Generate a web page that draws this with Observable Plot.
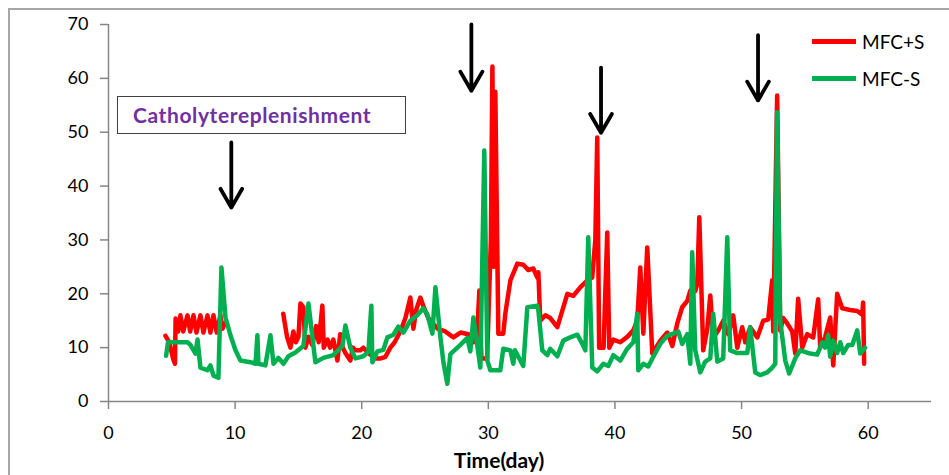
<!DOCTYPE html>
<html>
<head>
<meta charset="utf-8">
<script src="https://cdn.jsdelivr.net/npm/d3@7"></script>
<script src="https://cdn.jsdelivr.net/npm/@observablehq/plot@0.6"></script>
<style>
  html, body { margin: 0; padding: 0; background: #fff; overflow: hidden; }
  #wrap { position: relative; width: 949px; height: 475px; overflow: hidden; font-family: Lato, "Liberation Sans", sans-serif; }
  #frame { position: absolute; left: 8px; top: 8px; width: 980px; height: 500px; border: 2px solid #a6a6a6; box-sizing: border-box; pointer-events: none; }
  #chart { position: absolute; left: 0; top: 0; }
  #note { position: absolute; left: 117px; top: 96px; width: 289px; height: 38px; border: 1px solid #404040; box-sizing: border-box; background: #fff;
          color: #7030a0; font-weight: bold; font-size: 21px; letter-spacing: 0.6px; line-height: 36px; padding-left: 15px; font-family: Lato, sans-serif; white-space: nowrap; }
  #xlabel { position: absolute; left: 400px; width: 198px; top: 448px; text-align: center; font-weight: bold; font-size: 21px; line-height: 24px; color: #000; font-family: Lato, sans-serif; }
  .leg { position: absolute; left: 812px; font-size: 19px; color: #000; font-family: Lato, sans-serif; }
  .leg span.sw { position: absolute; left: 0; width: 44px; height: 5px; }
  .leg span.lb { position: absolute; left: 50px; white-space: nowrap; }
</style>
</head>
<body>
<div id="wrap">
  <div id="chart"></div>
  <div id="note"></div>
  <div id="xlabel"></div>
  <div id="legend"></div>
  <div id="frame"></div>
</div>
<script>
// ---- Data ----
const seriesNames = ["MFC+S", "MFC-S"];
const seriesColors = ["#ff0000", "#00b050"];

const redDays = [4.5,4.8,5.1,5.25,5.3,5.5,5.68,5.9,6.24,6.45,6.71,6.95,7.26,7.5,7.82,8.05,8.29,8.55,8.84,9.0,9.2,9.5,
  13.8,14.1,14.37,14.6,14.8,15.0,15.16,15.39,15.55,15.8,16.1,16.4,16.6,16.89,17.0,17.3,17.5,17.76,18.08,18.3,18.5,18.71,19.1,19.3,19.5,19.89,20.13,20.5,21.08,21.5,21.87,22.26,22.6,23.05,23.45,23.84,24.08,24.3,24.63,24.9,25.26,25.6,26.0,26.6,27.24,27.8,28.42,28.82,29.1,29.29,29.45,29.9,30.2,30.32,30.45,30.55,30.79,31.18,31.34,31.74,32.29,32.76,33.16,33.55,33.87,33.95,34.1,34.5,34.89,35.45,36.24,36.71,37.26,37.82,38.2,38.45,38.6,38.75,39.1,39.39,39.55,39.87,40.42,40.97,41.45,41.76,42.0,42.24,42.55,42.95,43.58,44.13,44.53,44.92,45.31,45.71,45.95,46.34,46.5,46.66,46.97,47.29,47.53,47.76,48.16,48.55,48.95,49.34,49.66,50.05,50.29,50.68,51.24,51.71,52.1,52.42,52.5,52.81,53.05,53.29,53.6,54.0,54.24,54.47,54.79,55.18,55.66,56.05,56.21,56.6,57.0,57.24,57.55,57.95,58.58,59.13,59.53,59.6,59.68];
const redValues = [12.2,11,8,7,15.4,13,16,13,16,13,16,12.8,16,12.8,16,12.8,16,12.8,16,13.5,14.5,null,
  16.3,12,10,13,11,12,18.2,17.5,10,12,10.5,14,11,17.8,10,11.5,10,11.5,7.6,12.5,10,9,7.6,10,9.5,9.5,10,9,8,8,8.3,10,11,13,15.5,19.3,13.5,17,19.3,17.5,15.5,14.5,13.5,13,11.9,12.8,12.5,11,12,20.6,8,8,30,62.2,25,57.5,12.6,12.6,16.3,22.5,25.6,25.4,24.4,24.7,23,24,15,16,15.5,13.8,20,19.6,21.2,22.5,23,30,49,10,10,31.4,10,11.5,11,12,13.2,15,24.9,12.6,28.6,8.9,11.3,12.8,10.3,14.5,17.5,18.7,20.6,20.5,21.9,34.2,9.5,13.4,19.7,11.9,13.2,15,12.5,16,10,13.8,11,13.8,11.9,15,15.2,22.5,13,56.8,13.2,15.5,14.5,13,8.9,19.1,10,12.5,11.9,19,10,12,15.6,6.7,20,17.3,17,16.8,16.1,18.4,7];

const greenDays = [4.55,4.7,5.5,6.24,6.47,6.87,7.03,7.26,7.82,8.05,8.29,8.68,8.92,9.24,9.63,10.03,10.42,11.21,11.61,11.76,11.84,12.39,12.79,13.03,13.42,13.82,14.21,14.76,15.39,15.79,16.34,16.97,17.76,18.47,18.71,19.1,19.5,20.13,20.53,20.76,20.84,21.24,21.71,22.03,22.5,22.89,23.29,23.84,24.39,24.87,25.18,25.58,25.82,26.21,26.45,26.76,27.0,27.79,28.34,28.58,28.82,29.37,29.68,29.92,30.16,30.95,31.18,31.74,31.97,32.1,32.76,33.08,33.87,33.95,34.26,34.66,34.89,35.45,35.92,36.47,37.03,37.42,37.66,37.89,38.21,38.6,39.08,39.47,39.87,40.42,40.97,41.45,41.76,41.84,42.24,42.63,43.03,43.58,44.13,44.61,45.0,45.31,45.71,45.95,46.1,46.34,46.74,47.13,47.53,47.76,48.08,48.55,48.87,49.1,49.66,50.45,50.68,51.08,51.47,52.03,52.42,52.66,52.8,53.05,53.45,53.76,54.24,54.63,55.42,55.97,56.37,56.6,56.84,57.0,57.24,57.55,57.79,58.03,58.42,58.74,59.13,59.37,59.76];
const greenValues = [8.5,11,11,11,10.5,8.9,11.5,6.3,5.8,6.7,4.8,4.4,24.9,15.6,12.3,9.5,7.6,7.3,7,12.3,7,6.7,12.3,7,8.1,7,8.4,9.1,10.3,18.2,7.3,8.1,8.6,10.3,14.1,10,8,8.4,9.3,17.8,7.3,9.3,9.6,11.9,12.4,13.9,12.8,15,16,17.3,16.2,12.6,21.2,12,7.3,3.3,8.8,10.5,11.8,9.3,15.6,6.3,46.6,7.6,5.8,5.8,9.8,9.5,7,9.5,6.6,17.5,17.8,17,9.5,8.6,9.8,8.4,11.3,11.9,12.4,10.7,9.5,30.5,6.3,5.6,7,6.6,8.6,7.6,9.8,11,16.3,5.8,7,6.5,8.3,10.7,12.2,12.6,13,10.7,12.5,7,27.7,9.5,5.4,7.4,8,16.3,7.4,8,30.5,9.5,9,9,13.8,5.4,4.9,5.4,6.3,7,53.7,15,7.6,5.2,8,9.5,8.9,8.7,11,10,12.3,8.3,11.3,9,11,9,10.5,10.5,13.2,8.9,10];

const xTicks = [0, 10, 20, 30, 40, 50, 60];
const yTicks = [0, 10, 20, 30, 40, 50, 60, 70];
const xLabel = "Time(day)";
const noteText = "Catholytereplenishment";

// arrows marking catholyte replenishment
const arrowX = [9.7, 28.66, 38.9, 51.3];
const arrowTop = [48.1, 70, 62, 68];
const arrowBottom = [36, 57.7, 49.9, 55.9];

// ---- Build tables ----
const red = redDays.map((d, i) => ({day: d, value: redValues[i]}));
const green = greenDays.map((d, i) => ({day: d, value: greenValues[i]}));
const arrows = arrowX.map((x, i) => ({x, y1: arrowTop[i], y2: arrowBottom[i]}));

const axisColor = "#868686";

const plot = Plot.plot({
  width: 949,
  height: 475,
  marginLeft: 108,
  marginRight: 18,
  marginTop: 24,
  marginBottom: 74,
  style: {fontFamily: "Lato, sans-serif", fontSize: "18px", color: "#000", background: "transparent"},
  x: {domain: [0, 65]},
  y: {domain: [0, 70]},
  marks: [
    Plot.ruleY([0], {stroke: axisColor, strokeWidth: 1.5}),
    Plot.ruleX([0], {stroke: axisColor, strokeWidth: 1.5}),
    Plot.axisX({ticks: xTicks, tickSize: 8, tickPadding: 17, stroke: axisColor, strokeWidth: 1.5, label: null, fontSize: 18}),
    Plot.axisY({ticks: yTicks, tickSize: 8, tickPadding: 12, stroke: axisColor, strokeWidth: 1.5, label: null, fontSize: 18}),
    Plot.line(red, {x: "day", y: "value", stroke: seriesColors[0], strokeWidth: 4.5, strokeLinejoin: "round"}),
    Plot.line(green, {x: "day", y: "value", stroke: seriesColors[1], strokeWidth: 4.5, strokeLinejoin: "round"}),
    Plot.arrow(arrows, {x1: "x", x2: "x", y1: "y1", y2: "y2", stroke: "#000", strokeWidth: 3.8, headLength: 30, headAngle: 60})
  ]
});
document.getElementById("chart").appendChild(plot);

document.getElementById("note").textContent = noteText;
document.getElementById("xlabel").textContent = xLabel;

const legend = document.getElementById("legend");
const legendTops = [30, 67];
seriesNames.forEach((name, i) => {
  const row = document.createElement("div");
  row.className = "leg";
  row.style.top = legendTops[i] + "px";
  row.innerHTML = `<span class="sw" style="top:9px;background:${seriesColors[i]}"></span><span class="lb">${name}</span>`;
  legend.appendChild(row);
});
</script>
</body>
</html>
